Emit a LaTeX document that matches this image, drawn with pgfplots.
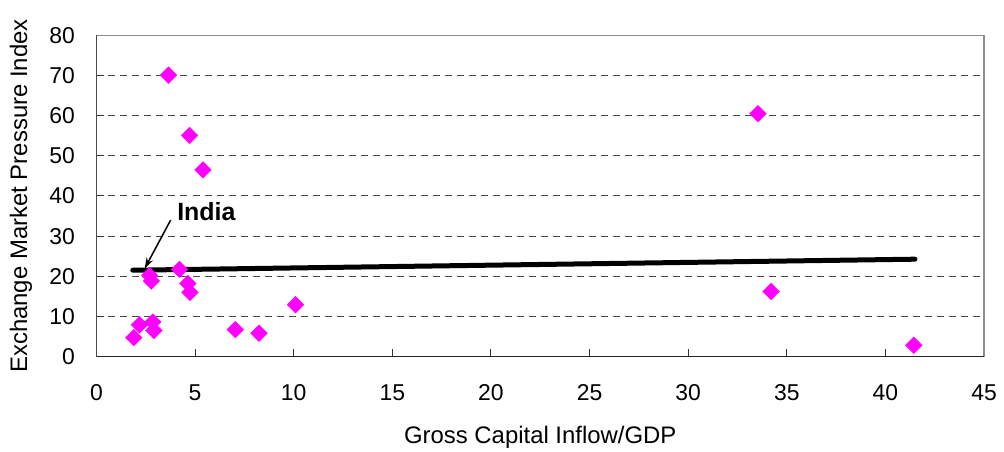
\documentclass[border=0pt]{standalone}
\usepackage{fontspec}
\setmainfont{Liberation Sans}
\usepackage{pgfplots}
\pgfplotsset{compat=1.18}
\usetikzlibrary{arrows.meta}
\definecolor{mag}{RGB}{255,0,255}
\begin{document}
\begin{tikzpicture}
\begin{axis}[
  name=ax,
  scale only axis, width=887.5bp, height=321bp,
  xmin=0, xmax=45, ymin=0, ymax=80,
  xtick={0,5,...,45}, ytick={0,10,...,80},
  xtick pos=bottom, ytick pos=left,
  tick align=inside,
  major tick length=7bp,
  tick style={draw=black!80, line width=1bp},
  axis line style={draw=black!45, line width=1.5bp},
  ymajorgrids,
  grid style={draw=black!70, line width=1bp, dash pattern=on 7bp off 5bp},
  /pgf/number format/assume math mode=true,
  ticklabel style={font=\fontsize{23}{27}\selectfont, inner sep=0pt},
  xticklabel style={anchor=center, yshift=-36.5bp},
  yticklabel style={anchor=east, xshift=-21.5bp},
  xlabel={Gross Capital Inflow/GDP},
  ylabel={Exchange Market Pressure Index},
  xlabel style={at={([yshift=-80.5bp]axis description cs:0.5,0)}, anchor=center, font=\fontsize{24}{28}\selectfont, inner sep=0pt},
  ylabel style={at={([xshift=-75.5bp]axis description cs:0,0.5)}, anchor=center, rotate=0, font=\fontsize{24}{28}\selectfont, inner sep=0pt},
]
\addplot[black, line width=5bp, line cap=round] coordinates {(1.84,21.5) (41.5,24.25)};
\addplot[only marks, mark=square*, mark size=6bp, mark options={rotate=45, fill=mag, draw=mag, line width=0.1bp}] coordinates {
(5.40,46.5) (3.65,70.1) (4.72,55.1) (2.69,20.2) (2.78,18.8)
(4.21,21.7) (4.63,18.2) (4.74,16.0) (10.09,12.9)
(2.18,7.9) (1.89,4.7) (2.86,8.6) (2.91,6.5)
(7.04,6.7) (8.24,5.8) (33.54,60.5) (34.21,16.2) (41.44,2.8)
};
\draw[black!85, line width=1.5bp] (rel axis cs:0,1) -- (rel axis cs:0,0) -- (rel axis cs:1,0);
\node[font=\bfseries\fontsize{25}{29}\selectfont, inner sep=0pt] at (axis cs:5.57,36.1) {India};
\draw[-{Stealth[length=11bp,width=7bp]}, line width=1.5bp] (axis cs:3.76,34) -- (axis cs:2.44,21.9);
\end{axis}
\pgfresetboundingbox
\path[use as bounding box] ([xshift=-96.5bp,yshift=-95.5bp]ax.south west) rectangle ([xshift=20bp,yshift=35.5bp]ax.north east);
\end{tikzpicture}
\end{document}
